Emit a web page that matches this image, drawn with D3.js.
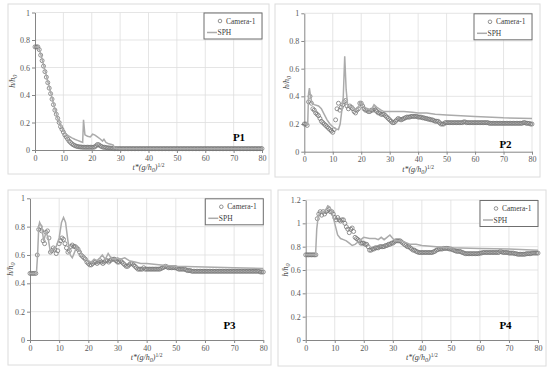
<!DOCTYPE html>
<html>
<head>
<meta charset="utf-8">
<script src="https://cdn.jsdelivr.net/npm/d3@7"></script>
<style>
  body { margin: 0; background: #fff; }
  svg { display: block; }
</style>
</head>
<body>
<svg id="chart" width="550" height="372"></svg>
<script>
// camera frames every 0.5 time units, 0 .. 80
const camTimes = d3.range(0, 80.001, 0.5);
const xTicks = [0, 10, 20, 30, 40, 50, 60, 70, 80];
const yTicksA = [0, 0.2, 0.4, 0.6, 0.8, 1];
const yTicksB = [0, 0.2, 0.4, 0.6, 0.8, 1, 1.2];
const seriesNames = ["Camera-1", "SPH"];
const panelNames = ["P1", "P2", "P3", "P4"];

const p1Camera = [
  0.75,0.75,0.75,0.73,0.69,0.65,0.61,0.57,0.53,0.49,0.45,0.41,0.37,0.33,0.29,0.26,0.23,0.2,0.17,0.15,
  0.13,0.11,0.095,0.08,0.065,0.055,0.045,0.038,0.032,0.028,0.025,0.023,0.022,0.021,0.02,0.02,0.02,0.02,0.02,0.02,
  0.02,0.02,0.022,0.03,0.04,0.038,0.03,0.025,0.02,0.02,0.018,0.016,0.015,0.014,0.012,0.011,0.01,0.01,0.01,0.01,
  0.01,0.01,0.01,0.01,0.01,0.01,0.01,0.01,0.01,0.01,0.01,0.01,0.01,0.01,0.01,0.01,0.01,0.01,0.01,0.01,
  0.01,0.01,0.01,0.01,0.01,0.01,0.01,0.01,0.01,0.01,0.01,0.01,0.01,0.01,0.01,0.01,0.01,0.01,0.01,0.01,
  0.01,0.01,0.01,0.01,0.01,0.01,0.01,0.01,0.01,0.01,0.01,0.01,0.01,0.01,0.01,0.01,0.01,0.01,0.01,0.01,
  0.01,0.01,0.01,0.01,0.01,0.01,0.01,0.01,0.01,0.01,0.01,0.01,0.01,0.01,0.01,0.01,0.01,0.01,0.01,0.01,
  0.01,0.01,0.01,0.01,0.01,0.01,0.01,0.01,0.01,0.01,0.01,0.01,0.01,0.01,0.01,0.01,0.01,0.01,0.01,0.01,
  0.01
];
const p1Sph = [
  [0,0.75],[1,0.75],[1.5,0.73],[2,0.7],[3,0.62],[4,0.54],[5,0.46],[6,0.38],[7,0.3],[8,0.23],
  [9,0.175],[10,0.14],[11,0.115],[12,0.1],[13,0.088],[14,0.078],[15,0.07],[16,0.062],[16.8,0.055],
  [17.1,0.22],[17.6,0.11],[18.5,0.1],[19.5,0.095],[20.3,0.115],[21,0.11],[22,0.095],[23,0.08],
  [23.8,0.065],[24.3,0.078],[25,0.055],[26,0.045],[27,0.04],[27.6,0.035],[28,0.012],[30,0.01],[80,0.01]
];

const p2Camera = [
  0.2,0.2,0.19,0.36,0.4,0.35,0.31,0.3,0.28,0.27,0.26,0.24,0.22,0.21,0.2,0.19,0.18,0.17,0.16,0.15,
  0.14,0.16,0.23,0.31,0.35,0.3,0.32,0.34,0.36,0.37,0.33,0.31,0.33,0.32,0.31,0.29,0.28,0.3,0.31,0.35,
  0.35,0.33,0.31,0.3,0.3,0.29,0.29,0.3,0.3,0.31,0.3,0.29,0.28,0.28,0.27,0.27,0.27,0.26,0.25,0.24,
  0.23,0.22,0.21,0.21,0.22,0.23,0.24,0.235,0.23,0.235,0.24,0.245,0.25,0.25,0.25,0.255,0.255,0.255,0.255,0.255,
  0.25,0.25,0.25,0.245,0.245,0.24,0.24,0.235,0.235,0.23,0.23,0.225,0.22,0.22,0.22,0.21,0.2,0.2,0.2,0.21,
  0.21,0.21,0.21,0.21,0.21,0.21,0.21,0.21,0.21,0.21,0.21,0.21,0.215,0.215,0.21,0.21,0.21,0.21,0.21,0.21,
  0.21,0.21,0.21,0.21,0.21,0.21,0.21,0.21,0.21,0.21,0.205,0.205,0.205,0.205,0.205,0.205,0.205,0.205,0.205,0.205,
  0.205,0.205,0.205,0.205,0.205,0.205,0.205,0.205,0.205,0.205,0.205,0.205,0.205,0.205,0.21,0.21,0.205,0.205,0.205,0.2,
  0.2
];
const p2Sph = [
  [0,0.2],[1.2,0.2],[1.5,0.42],[1.8,0.46],[2.2,0.4],[2.7,0.35],[3.5,0.34],[5,0.33],[6,0.31],[7,0.27],
  [8,0.23],[9,0.2],[10,0.18],[11,0.165],[12,0.16],[12.6,0.2],[13.2,0.3],[13.7,0.4],[14.2,0.69],[14.7,0.45],
  [15.2,0.34],[16,0.32],[17,0.33],[18,0.3],[19,0.32],[19.7,0.36],[20.5,0.33],[22,0.31],[23.5,0.3],
  [24.5,0.34],[25.5,0.32],[27,0.3],[28,0.29],[32,0.29],[35,0.29],[38,0.285],[40,0.28],[43,0.28],
  [46,0.27],[50,0.265],[60,0.255],[70,0.245],[80,0.24]
];

const p3Camera = [
  0.47,0.47,0.47,0.47,0.47,0.6,0.78,0.8,0.77,0.7,0.68,0.76,0.77,0.72,0.62,0.63,0.65,0.64,0.61,0.63,
  0.68,0.7,0.72,0.71,0.68,0.65,0.62,0.63,0.66,0.67,0.66,0.66,0.65,0.64,0.62,0.6,0.59,0.58,0.57,0.55,
  0.54,0.53,0.53,0.54,0.55,0.55,0.54,0.55,0.56,0.55,0.54,0.55,0.56,0.56,0.55,0.56,0.57,0.57,0.57,0.56,
  0.55,0.55,0.56,0.55,0.54,0.53,0.52,0.52,0.53,0.54,0.54,0.53,0.52,0.51,0.5,0.5,0.5,0.5,0.51,0.5,
  0.5,0.5,0.5,0.5,0.5,0.5,0.5,0.5,0.5,0.5,0.505,0.51,0.515,0.52,0.515,0.51,0.51,0.51,0.51,0.51,
  0.51,0.505,0.5,0.5,0.5,0.5,0.5,0.495,0.49,0.49,0.49,0.485,0.485,0.485,0.485,0.485,0.485,0.485,0.485,0.485,
  0.485,0.485,0.485,0.485,0.485,0.485,0.485,0.485,0.485,0.485,0.485,0.485,0.485,0.485,0.485,0.485,0.485,0.485,0.485,0.485,
  0.485,0.485,0.485,0.485,0.485,0.485,0.485,0.485,0.485,0.485,0.485,0.485,0.485,0.485,0.485,0.485,0.485,0.485,0.48,0.48,
  0.48
];
const p3Sph = [
  [0,0.47],[2.2,0.47],[2.6,0.6],[3,0.8],[3.3,0.83],[4,0.8],[4.7,0.7],[5.5,0.76],[6.2,0.72],[7,0.62],
  [8,0.64],[9,0.66],[10,0.72],[10.8,0.83],[11.5,0.865],[12.2,0.83],[13,0.7],[13.8,0.6],[14.5,0.58],
  [15.3,0.62],[16,0.66],[17,0.63],[18,0.6],[19,0.58],[20,0.56],[21,0.55],[22,0.57],[23,0.56],[24,0.58],
  [24.8,0.6],[25.8,0.57],[26.8,0.61],[27.8,0.58],[29,0.57],[30,0.58],[31,0.57],[32.5,0.58],[34,0.56],
  [36,0.55],[38,0.54],[40,0.54],[45,0.53],[50,0.52],[60,0.515],[70,0.51],[80,0.505]
];

const p4Camera = [
  0.73,0.73,0.73,0.73,0.73,0.73,0.73,0.73,1.04,1.08,1.1,1.07,1.1,1.08,1.1,1.11,1.12,1.1,1.1,1.08,
  1.05,1.03,1.05,1.03,1.02,1.03,1.03,1.0,0.97,0.95,0.92,0.95,0.96,0.93,0.88,0.87,0.86,0.85,0.83,0.83,
  0.83,0.82,0.82,0.8,0.77,0.77,0.78,0.78,0.79,0.79,0.79,0.8,0.8,0.8,0.8,0.81,0.81,0.82,0.82,0.83,
  0.83,0.84,0.85,0.85,0.85,0.85,0.84,0.83,0.82,0.81,0.8,0.8,0.79,0.78,0.77,0.77,0.76,0.755,0.75,0.75,
  0.75,0.75,0.75,0.75,0.75,0.75,0.75,0.75,0.755,0.76,0.77,0.775,0.78,0.78,0.78,0.785,0.785,0.785,0.785,0.78,
  0.78,0.775,0.77,0.765,0.76,0.76,0.76,0.755,0.75,0.745,0.74,0.74,0.74,0.74,0.74,0.74,0.74,0.74,0.74,0.74,
  0.745,0.745,0.75,0.75,0.75,0.75,0.75,0.75,0.75,0.75,0.75,0.75,0.75,0.75,0.76,0.755,0.75,0.75,0.75,0.75,
  0.745,0.745,0.745,0.745,0.74,0.74,0.735,0.735,0.735,0.735,0.735,0.735,0.74,0.74,0.74,0.74,0.745,0.745,0.745,0.745,
  0.745
];
const p4Sph = [
  [0,0.73],[3.4,0.73],[3.8,0.95],[4.3,1.06],[5,1.1],[6,1.09],[7,1.12],[7.6,1.15],[8.3,1.14],[9,1.1],
  [10,1.0],[11,0.9],[12,0.87],[13,0.86],[14,0.85],[15,0.83],[16,0.81],[17,0.82],[18,0.84],[19,0.86],
  [20,0.88],[22,0.87],[24,0.87],[25,0.86],[26,0.88],[27,0.86],[28,0.88],[29,0.9],[30,0.87],[31,0.85],
  [32,0.85],[34,0.84],[36,0.82],[38,0.82],[40,0.81],[45,0.8],[50,0.79],[60,0.785],[70,0.78],[80,0.77]
];

// layout of the four sub-charts
const panels = [
  { name: panelNames[0], cam: p1Camera, sph: p1Sph, yTicks: yTicksA,
    frame: [8, 4, 269, 174], x0: 35, x1: 262, y0: 150, y1: 12.5, yTitleX: 15, xTitleDy: 20, label: [239, 141] },
  { name: panelNames[1], cam: p2Camera, sph: p2Sph, yTicks: yTicksA,
    frame: [275, 4, 540, 177], x0: 304.3, x1: 532, y0: 151.7, y1: 13.3, yTitleX: 289, xTitleDy: 20, label: [505.5, 148] },
  { name: panelNames[2], cam: p3Camera, sph: p3Sph, yTicks: yTicksA,
    frame: [8, 190, 271, 365], x0: 30, x1: 263.3, y0: 340, y1: 198.3, yTitleX: 13, xTitleDy: 20, label: [229.5, 329] },
  { name: panelNames[3], cam: p4Camera, sph: p4Sph, yTicks: yTicksB,
    frame: [278, 190, 546, 366], x0: 305.7, x1: 538, y0: 340, y1: 200, yTitleX: 288, xTitleDy: 20, label: [505.5, 329] }
];

const serif = "'Liberation Serif', 'Times New Roman', serif";
const camColour = "#777";
const sphColour = "#ababab";

const svg = d3.select("#chart");

panels.forEach((p) => {
  const g = svg.append("g");
  const yMax = p.yTicks[p.yTicks.length - 1];
  const x = d3.scaleLinear().domain([0, 80]).range([p.x0, p.x1]);
  const y = d3.scaleLinear().domain([0, yMax]).range([p.y0, p.y1]);

  // outer frame
  g.append("rect")
    .attr("x", p.frame[0]).attr("y", p.frame[1])
    .attr("width", p.frame[2] - p.frame[0]).attr("height", p.frame[3] - p.frame[1])
    .attr("fill", "#fff").attr("stroke", "#dcdcdc").attr("stroke-width", 1);

  // gridlines
  g.append("g").selectAll("line").data(xTicks.slice(1)).enter().append("line")
    .attr("x1", (d) => x(d)).attr("x2", (d) => x(d))
    .attr("y1", y(0)).attr("y2", y(yMax))
    .attr("stroke", "#dedede").attr("stroke-width", 0.8);
  g.append("g").selectAll("line").data(p.yTicks.slice(1)).enter().append("line")
    .attr("x1", x(0)).attr("x2", x(80))
    .attr("y1", (d) => y(d)).attr("y2", (d) => y(d))
    .attr("stroke", "#dedede").attr("stroke-width", 0.8);

  // axes
  const xAxis = g.append("g").attr("transform", `translate(0,${y(0)})`)
    .call(d3.axisBottom(x).tickValues(xTicks).tickSize(3).tickSizeOuter(0).tickFormat(d3.format("d")));
  const yAxis = g.append("g").attr("transform", `translate(${x(0)},0)`)
    .call(d3.axisLeft(y).tickValues(p.yTicks).tickSize(3).tickSizeOuter(0).tickFormat((d) => String(+d.toFixed(1))));
  [xAxis, yAxis].forEach((a) => {
    a.select(".domain").attr("stroke", "#868686").attr("stroke-width", 1);
    a.selectAll(".tick line").attr("stroke", "#868686");
    a.selectAll(".tick text").attr("fill", "#595959")
      .style("font-family", serif).style("font-size", "8px");
  });
  xAxis.selectAll(".tick text").attr("y", 5);
  yAxis.selectAll(".tick text").attr("x", -5);

  // Camera-1 markers
  g.append("g").selectAll("circle").data(p.cam).enter().append("circle")
    .attr("cx", (d, i) => x(camTimes[i]))
    .attr("cy", (d) => y(d))
    .attr("r", 2)
    .attr("fill", "none")
    .attr("stroke", camColour)
    .attr("stroke-width", 0.8);

  // SPH line
  g.append("path").datum(p.sph)
    .attr("d", d3.line().x((d) => x(d[0])).y((d) => y(d[1])))
    .attr("fill", "none").attr("stroke", sphColour).attr("stroke-width", 1.5);

  // axis titles
  const yt = g.append("text")
    .attr("transform", `translate(${p.yTitleX},${(p.y0 + p.y1) / 2}) rotate(-90)`)
    .attr("text-anchor", "middle").attr("fill", "#404040")
    .style("font-family", serif).style("font-size", "8px").style("font-style", "italic");
  yt.append("tspan").text("h/h");
  yt.append("tspan").attr("dy", 2).style("font-size", "6px").text("0");

  const xt = g.append("text")
    .attr("x", (p.x0 + p.x1) / 2).attr("y", p.y0 + p.xTitleDy)
    .attr("text-anchor", "middle").attr("fill", "#404040")
    .style("font-family", serif).style("font-size", "8px").style("font-style", "italic");
  xt.append("tspan").text("t*(g/h");
  xt.append("tspan").attr("dy", 2).style("font-size", "6px").text("0");
  xt.append("tspan").attr("dy", -2).text(")");
  xt.append("tspan").attr("dy", -3).style("font-size", "5.5px").style("font-style", "normal").text("1/2");

  // panel label
  g.append("text")
    .attr("x", p.label[0]).attr("y", p.label[1])
    .attr("text-anchor", "middle").attr("fill", "#000")
    .style("font-family", serif).style("font-size", "11px").style("font-weight", "bold")
    .text(p.name);

  // legend
  const lw = 58, lh = 26;
  const lg = g.append("g").attr("transform", `translate(${p.x1 - lw},${p.y1 + 0.5})`);
  lg.append("rect").attr("width", lw).attr("height", lh)
    .attr("fill", "#fff").attr("stroke", "#6f6f6f").attr("stroke-width", 1);
  lg.append("circle").attr("cx", 16).attr("cy", 8).attr("r", 1.8)
    .attr("fill", "none").attr("stroke", camColour).attr("stroke-width", 0.8);
  lg.append("text").attr("x", 22).attr("y", 10.5).attr("fill", "#404040")
    .style("font-family", serif).style("font-size", "7.5px").text(seriesNames[0]);
  lg.append("line").attr("x1", 3).attr("x2", 13).attr("y1", 19.5).attr("y2", 19.5)
    .attr("stroke", sphColour).attr("stroke-width", 1.5);
  lg.append("text").attr("x", 13.5).attr("y", 22).attr("fill", "#404040")
    .style("font-family", serif).style("font-size", "7.5px").text(seriesNames[1]);
});
</script>
</body>
</html>
